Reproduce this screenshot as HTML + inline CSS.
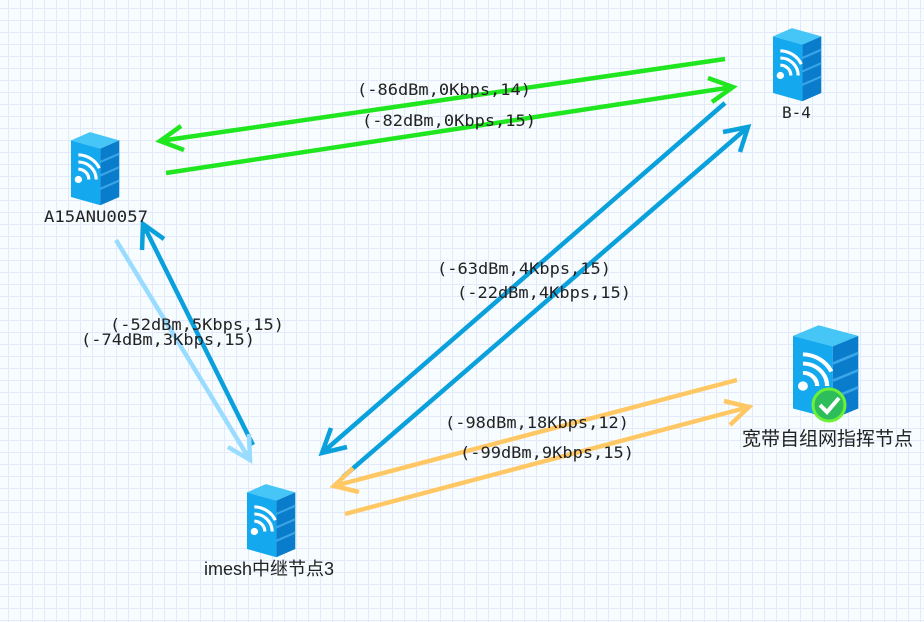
<!DOCTYPE html>
<html><head><meta charset="utf-8"><style>
html,body{margin:0;padding:0;}
body{width:924px;height:622px;overflow:hidden;background-color:#f7fdff;
background-image:linear-gradient(to right,#e3e8fb 1px,transparent 1px),linear-gradient(to bottom,#e3e8fb 1px,transparent 1px);
background-size:12px 12px;background-position:8px 8px;}
svg{position:absolute;left:0;top:0;}
text{font-family:"DejaVu Sans Mono","Liberation Mono",monospace;font-size:16px;fill:#222;}
.cn{font-family:"Liberation Sans","Noto Sans CJK SC",sans-serif;font-size:19px;}
</style></head><body>
<svg width="924" height="622" viewBox="0 0 924 622">
<defs>
<g id="srv">
<polygon points="0,12 18,4 46,12 28,20" fill="#45c6f7"/>
<polygon points="0,12 28,20 28,75 0,67" fill="#14a9ef"/>
<polygon points="28,20 46,12 46,67 28,75" fill="#0a7ccc"/>
<path d="M28,33 L46,25 M28,46 L46,38 M28,59 L46,51" stroke="#3aa6e8" stroke-width="2"/>
<circle cx="7" cy="50" r="3.5" fill="#fff"/>
<path d="M7,40 A10,10 0 0 1 17,50" stroke="#fff" stroke-width="3" fill="none"/>
<path d="M7,33 A17,17 0 0 1 24,50" stroke="#fff" stroke-width="3" fill="none"/>
<path d="M7,26 A23,23 0 0 1 27,39" stroke="#fff" stroke-width="3" fill="none"/>
</g>
</defs>
<g stroke-width="4.5" fill="none" stroke-linecap="butt">
<g stroke="#1fe61f">
<path d="M725,59 L160,141 M184,150 L160,141 L181,126"/>
<path d="M166,173 L733,87 M708,78 L733,87 L712,102"/>
</g>
<g stroke="#0aa0dc">
<path d="M725,103 L322,453 M347,447 L322,453 L331,428"/>
<path d="M343,477 L748,127 M723,132 L748,127 L740,152"/>
<path d="M253,445 L143,224 M142,250 L143,224 L164,239"/>
</g>
<g stroke="#99dcff">
<path d="M116,240 L250,460 M249,434 L250,460 L228,447"/>
</g>
<g stroke="#ffc864">
<path d="M737,380 L334,486 M359,492 L334,486 L353,468"/>
<path d="M345,514 L749,407 M724,401 L749,407 L730,425"/>
</g>
</g>
<g transform="translate(71,128) scale(1.05,1.03)"><use href="#srv"/></g>
<g transform="translate(773,24) scale(1.05,1.03)"><use href="#srv"/></g>
<g transform="translate(247,480) scale(1.05,1.03)"><use href="#srv"/></g>
<g transform="translate(793,320) scale(1.42,1.32)"><use href="#srv"/></g>
<circle cx="829" cy="405" r="16" fill="#2dbd5a" stroke="#6cf03a" stroke-width="3"/>
<path d="M820,405 L827,412 L839,398" stroke="#fff" stroke-width="4" fill="none"/>
<text x="44" y="222" textLength="104" lengthAdjust="spacingAndGlyphs">A15ANU0057</text>
<text x="782" y="118">B-4</text>
<text x="204" y="575" class="cn" style="font-size:18px">imesh中继节点3</text>
<text x="742" y="445" class="cn">宽带自组网指挥节点</text>
<g>
<text x="357" y="95" textLength="174" lengthAdjust="spacingAndGlyphs">(-86dBm,0Kbps,14)</text>
<text x="362" y="126" textLength="174" lengthAdjust="spacingAndGlyphs">(-82dBm,0Kbps,15)</text>
<text x="437" y="274" textLength="174" lengthAdjust="spacingAndGlyphs">(-63dBm,4Kbps,15)</text>
<text x="457" y="298" textLength="174" lengthAdjust="spacingAndGlyphs">(-22dBm,4Kbps,15)</text>
<text x="110" y="330" textLength="174" lengthAdjust="spacingAndGlyphs">(-52dBm,5Kbps,15)</text>
<text x="81" y="345" textLength="174" lengthAdjust="spacingAndGlyphs">(-74dBm,3Kbps,15)</text>
<text x="445" y="428" textLength="184" lengthAdjust="spacingAndGlyphs">(-98dBm,18Kbps,12)</text>
<text x="460" y="458" textLength="174" lengthAdjust="spacingAndGlyphs">(-99dBm,9Kbps,15)</text>
</g>
</svg>
</body></html>
